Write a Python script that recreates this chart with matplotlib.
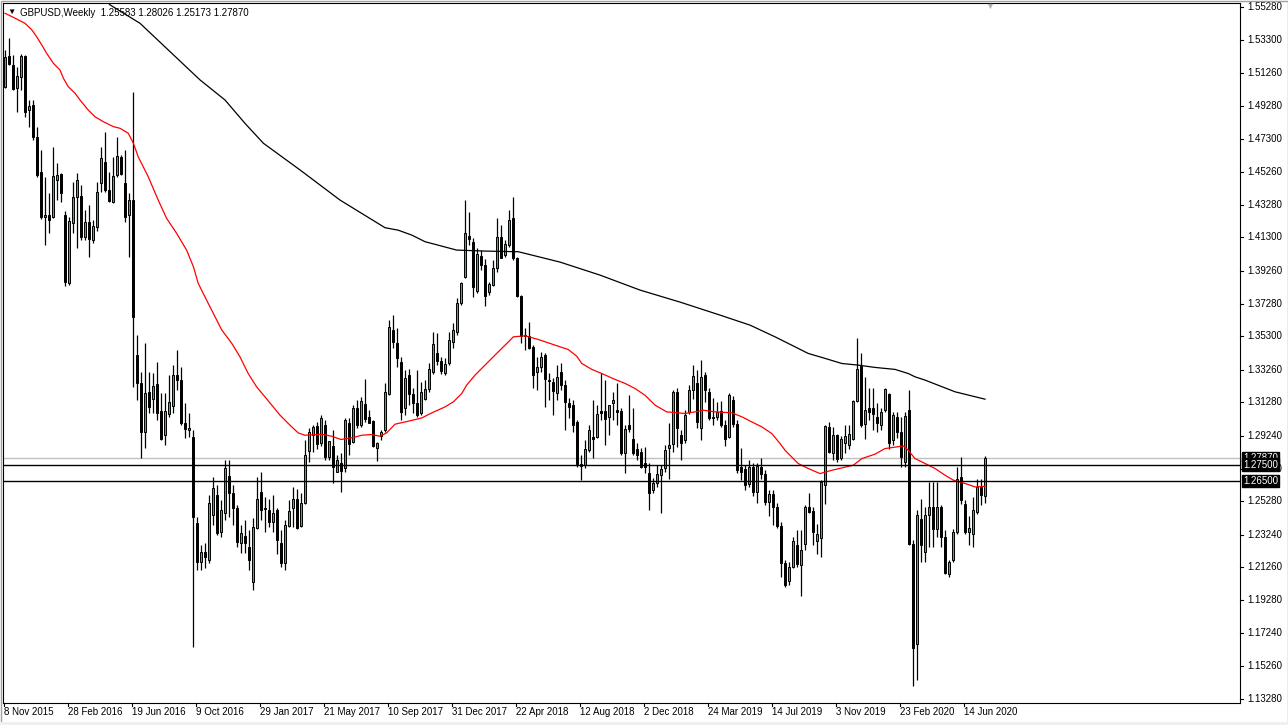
import numpy as np
import matplotlib
matplotlib.use('Agg')
import matplotlib.pyplot as plt
import matplotlib.transforms as mtransforms
from matplotlib.patches import Rectangle

plt.rcParams['font.family'] = ['Liberation Sans', 'DejaVu Sans']

# weekly GBPUSD candles, bar 0 = week of 8 Nov 2015, last bar = week of 19 Jul 2020
opens = [
    1.5046, 1.5233, 1.5178, 1.5038, 1.5105, 1.5233, 1.4904, 1.4935, 1.4740, 1.4527,
    1.4254, 1.4266, 1.4254, 1.4479, 1.4515, 1.4266, 1.3852, 1.4217, 1.4375, 1.4381,
    1.4132, 1.4223, 1.4114, 1.4193, 1.4460, 1.4588, 1.4418, 1.4345, 1.4509, 1.4618,
    1.4460, 1.4266, 1.4357, 1.3415, 1.3244, 1.2948, 1.3191, 1.3147, 1.3238, 1.3076,
    1.2928, 1.3056, 1.3106, 1.3293, 1.3263, 1.3001, 1.2959, 1.2916, 1.2393, 1.2160,
    1.2217, 1.2168, 1.2442, 1.2563, 1.2338, 1.2454, 1.2679, 1.2576, 1.2484, 1.2272,
    1.2314, 1.2249, 1.2035, 1.2365, 1.2583, 1.2486, 1.2472, 1.2401, 1.2472, 1.2276,
    1.2154, 1.2377, 1.2486, 1.2543, 1.2377, 1.2519, 1.2833, 1.2930, 1.2983, 1.2878,
    1.2993, 1.2796, 1.2863, 1.2705, 1.2760, 1.2729, 1.3005, 1.2884, 1.3091, 1.2993,
    1.3117, 1.3040, 1.3013, 1.2851, 1.2924, 1.2959, 1.3176, 1.3567, 1.3486, 1.3370,
    1.3094, 1.3297, 1.3180, 1.3121, 1.3066, 1.3151, 1.3208, 1.3313, 1.3425, 1.3378,
    1.3309, 1.3364, 1.3495, 1.3556, 1.3729, 1.3887, 1.4138, 1.4103, 1.3804, 1.4018,
    1.3962, 1.3800, 1.3840, 1.3942, 1.4134, 1.4023, 1.4083, 1.4246, 1.4006, 1.3773,
    1.3530, 1.3530, 1.3463, 1.3313, 1.3343, 1.3415, 1.3263, 1.3252, 1.3182, 1.3313,
    1.3232, 1.3125, 1.3111, 1.3009, 1.2756, 1.2746, 1.2837, 1.2918, 1.2918, 1.3076,
    1.3076, 1.3036, 1.3121, 1.3080, 1.3074, 1.2823, 1.2990, 1.2908, 1.2847, 1.2827,
    1.2760, 1.2701, 1.2598, 1.2638, 1.2689, 1.2726, 1.2851, 1.2872, 1.3188, 1.2928,
    1.2898, 1.3070, 1.3202, 1.3243, 1.2969, 1.3297, 1.3192, 1.3040, 1.3040, 1.3076,
    1.2989, 1.2918, 1.3145, 1.2999, 1.2735, 1.2720, 1.2630, 1.2735, 1.2583, 1.2732,
    1.2695, 1.2523, 1.2568, 1.2492, 1.2377, 1.2154, 1.2042, 1.2130, 1.2264, 1.2142,
    1.2266, 1.2492, 1.2466, 1.2286, 1.2306, 1.2624, 1.2979, 1.2821, 1.2928, 1.2790,
    1.2880, 1.2870, 1.2904, 1.3135, 1.3348, 1.2995, 1.3091, 1.3091, 1.3040, 1.2989,
    1.3080, 1.3178, 1.2900, 1.3040, 1.2948, 1.2766, 1.3080, 1.2270, 1.1662, 1.2422,
    1.2219, 1.2442, 1.2492, 1.2357, 1.2492, 1.2310, 1.2083, 1.2168, 1.2340, 1.2675,
    1.2513, 1.2340, 1.2330, 1.2462, 1.2614, 1.25583,
]
highs = [
    1.5269, 1.5342, 1.5239, 1.5166, 1.5245, 1.5239, 1.4965, 1.4965, 1.4801, 1.4661,
    1.4497, 1.4400, 1.4679, 1.4582, 1.4521, 1.4290, 1.4254, 1.4466, 1.4521, 1.4448,
    1.4296, 1.4327, 1.4235, 1.4466, 1.4679, 1.4770, 1.4527, 1.4618, 1.4740, 1.4631,
    1.4661, 1.4400, 1.5015, 1.3536, 1.3313, 1.3488, 1.3313, 1.3305, 1.3372, 1.3184,
    1.3184, 1.3293, 1.3354, 1.3445, 1.3342, 1.3123, 1.3062, 1.2959, 1.2430, 1.2259,
    1.2272, 1.2563, 1.2673, 1.2624, 1.2533, 1.2776, 1.2776, 1.2624, 1.2503, 1.2381,
    1.2411, 1.2351, 1.2424, 1.2675, 1.2705, 1.2553, 1.2543, 1.2563, 1.2483, 1.2351,
    1.2411, 1.2533, 1.2614, 1.2604, 1.2574, 1.2898, 1.2971, 1.2989, 1.3007, 1.3050,
    1.3019, 1.2880, 1.2959, 1.2807, 1.2819, 1.3032, 1.3032, 1.3111, 1.3141, 1.3159,
    1.3269, 1.3080, 1.3019, 1.2886, 1.2959, 1.3244, 1.3627, 1.3658, 1.3577, 1.3404,
    1.3323, 1.3330, 1.3214, 1.3323, 1.3252, 1.3263, 1.3364, 1.3556, 1.3547, 1.3404,
    1.3395, 1.3556, 1.3607, 1.3759, 1.3860, 1.4357, 1.4286, 1.4124, 1.4063, 1.4053,
    1.4000, 1.3860, 1.3992, 1.4246, 1.4205, 1.4114, 1.4296, 1.4377, 1.4012, 1.3779,
    1.3579, 1.3615, 1.3475, 1.3402, 1.3435, 1.3427, 1.3305, 1.3275, 1.3354, 1.3366,
    1.3263, 1.3153, 1.3141, 1.3019, 1.2807, 1.2898, 1.2989, 1.3141, 1.3111, 1.3305,
    1.3263, 1.3111, 1.3190, 1.3244, 1.3092, 1.2989, 1.3175, 1.3092, 1.2880, 1.2849,
    1.2855, 1.2758, 1.2667, 1.2746, 1.2746, 1.2867, 1.3000, 1.3202, 1.3212, 1.2959,
    1.3080, 1.3232, 1.3354, 1.3323, 1.3384, 1.3311, 1.3214, 1.3153, 1.3129, 1.3135,
    1.3019, 1.3184, 1.3165, 1.3019, 1.2849, 1.2746, 1.2776, 1.2758, 1.2758, 1.2788,
    1.2715, 1.2594, 1.2594, 1.2515, 1.2399, 1.2168, 1.2160, 1.2310, 1.2351, 1.2351,
    1.2503, 1.2576, 1.2492, 1.2391, 1.2655, 1.2989, 1.3009, 1.2979, 1.2938, 1.2922,
    1.2989, 1.2989, 1.3141, 1.3516, 1.3425, 1.3283, 1.3212, 1.3212, 1.3123, 1.3092,
    1.3212, 1.3182, 1.3070, 1.3070, 1.3040, 1.3070, 1.3202, 1.2290, 1.2472, 1.2543,
    1.2492, 1.2644, 1.2644, 1.2644, 1.2503, 1.2350, 1.2168, 1.2361, 1.2735, 1.2796,
    1.2533, 1.2436, 1.2553, 1.2665, 1.2665, 1.28026,
]
lows = [
    1.5036, 1.5178, 1.5026, 1.4892, 1.5026, 1.4862, 1.4801, 1.4720, 1.4495, 1.4240,
    1.4083, 1.4156, 1.4248, 1.4357, 1.4345, 1.3835, 1.3840, 1.4156, 1.4065, 1.4114,
    1.4114, 1.4010, 1.4096, 1.4170, 1.4406, 1.4406, 1.4345, 1.4339, 1.4497, 1.4509,
    1.4223, 1.4010, 1.3222, 1.3141, 1.2788, 1.2849, 1.3062, 1.3062, 1.3019, 1.2898,
    1.2867, 1.3039, 1.3062, 1.3202, 1.2989, 1.2910, 1.2916, 1.1639, 1.2107, 1.2107,
    1.2120, 1.2150, 1.2381, 1.2320, 1.2308, 1.2411, 1.2430, 1.2381, 1.2247, 1.2211,
    1.2211, 1.2107, 1.1986, 1.2361, 1.2411, 1.2340, 1.2371, 1.2340, 1.2209, 1.2127,
    1.2107, 1.2371, 1.2371, 1.2361, 1.2371, 1.2509, 1.2764, 1.2825, 1.2843, 1.2861,
    1.2776, 1.2776, 1.2635, 1.2703, 1.2583, 1.2703, 1.2807, 1.2880, 1.2971, 1.2977,
    1.3010, 1.3001, 1.2855, 1.2770, 1.2898, 1.2946, 1.3171, 1.3455, 1.3343, 1.3019,
    1.3050, 1.3111, 1.3062, 1.3040, 1.3050, 1.3141, 1.3191, 1.3303, 1.3354, 1.3303,
    1.3293, 1.3354, 1.3455, 1.3540, 1.3719, 1.3881, 1.4083, 1.3769, 1.3790, 1.3930,
    1.3712, 1.3779, 1.3836, 1.3921, 1.4003, 1.4012, 1.4073, 1.3992, 1.3769, 1.3486,
    1.3445, 1.3451, 1.3214, 1.3202, 1.3311, 1.3099, 1.3141, 1.3050, 1.3141, 1.3200,
    1.2959, 1.3032, 1.2946, 1.2735, 1.2655, 1.2728, 1.2825, 1.2788, 1.2910, 1.3019,
    1.2867, 1.2928, 1.3019, 1.2989, 1.2807, 1.2697, 1.2946, 1.2807, 1.2776, 1.2728,
    1.2697, 1.2472, 1.2576, 1.2614, 1.2454, 1.2705, 1.2665, 1.2827, 1.2857, 1.2776,
    1.2878, 1.3060, 1.3150, 1.2971, 1.2898, 1.3129, 1.3019, 1.2989, 1.3019, 1.2977,
    1.2861, 1.2910, 1.2977, 1.2697, 1.2655, 1.2594, 1.2612, 1.2557, 1.2515, 1.2661,
    1.2503, 1.2436, 1.2381, 1.2363, 1.2067, 1.2006, 1.2016, 1.2120, 1.2128, 1.1951,
    1.2229, 1.2454, 1.2259, 1.2205, 1.2188, 1.2513, 1.2817, 1.2776, 1.2766, 1.2776,
    1.2817, 1.2847, 1.2898, 1.3131, 1.2979, 1.2904, 1.3019, 1.2959, 1.2948, 1.2959,
    1.3068, 1.2847, 1.2870, 1.2910, 1.2736, 1.2736, 1.2259, 1.1402, 1.1443, 1.2158,
    1.2158, 1.2249, 1.2249, 1.2310, 1.2249, 1.2087, 1.2067, 1.2158, 1.2330, 1.2513,
    1.2330, 1.2259, 1.2249, 1.2452, 1.2503, 1.25173,
]
closes = [
    1.5228, 1.5184, 1.5032, 1.5111, 1.5233, 1.4892, 1.4929, 1.4740, 1.4509, 1.4254,
    1.4266, 1.4235, 1.4503, 1.4509, 1.4400, 1.3858, 1.4229, 1.4375, 1.4479, 1.4132,
    1.4223, 1.4120, 1.4199, 1.4406, 1.4612, 1.4418, 1.4351, 1.4503, 1.4625, 1.4515,
    1.4254, 1.4357, 1.3647, 1.3243, 1.2948, 1.3182, 1.3100, 1.3226, 1.3064, 1.2908,
    1.3074, 1.3131, 1.3293, 1.3263, 1.3001, 1.2965, 1.2971, 1.2430, 1.2160, 1.2219,
    1.2186, 1.2515, 1.2606, 1.2332, 1.2472, 1.2728, 1.2576, 1.2484, 1.2278, 1.2332,
    1.2272, 1.2168, 1.2371, 1.2543, 1.2476, 1.2478, 1.2401, 1.2458, 1.2294, 1.2154,
    1.2385, 1.2466, 1.2543, 1.2365, 1.2519, 1.2807, 1.2945, 1.2979, 1.2874, 1.3030,
    1.2796, 1.2892, 1.2735, 1.2776, 1.2711, 1.3019, 1.2874, 1.3091, 1.2989, 1.3135,
    1.3025, 1.3003, 1.2863, 1.2878, 1.2945, 1.3188, 1.3583, 1.3495, 1.3395, 1.3070,
    1.3277, 1.3180, 1.3121, 1.3050, 1.3188, 1.3208, 1.3330, 1.3480, 1.3378, 1.3317,
    1.3358, 1.3506, 1.3567, 1.3729, 1.3851, 1.4155, 1.4118, 1.3826, 1.4029, 1.3962,
    1.3775, 1.3845, 1.3942, 1.4130, 1.4006, 1.4088, 1.4235, 1.4003, 1.3773, 1.3532,
    1.3536, 1.3455, 1.3293, 1.3343, 1.3404, 1.3269, 1.3257, 1.3198, 1.3283, 1.3232,
    1.3131, 1.3100, 1.2989, 1.2756, 1.2742, 1.2847, 1.2959, 1.2904, 1.3060, 1.3064,
    1.3025, 1.3111, 1.3145, 1.3070, 1.2823, 1.2963, 1.2965, 1.2823, 1.2807, 1.2735,
    1.2735, 1.2577, 1.2635, 1.2695, 1.2720, 1.2837, 1.2867, 1.3188, 1.2969, 1.2882,
    1.3050, 1.3202, 1.3287, 1.3009, 1.3283, 1.3202, 1.3030, 1.3030, 1.3070, 1.2989,
    1.2908, 1.3171, 1.2995, 1.2716, 1.2705, 1.2624, 1.2735, 1.2583, 1.2740, 1.2691,
    1.2523, 1.2570, 1.2492, 1.2377, 1.2154, 1.2016, 1.2130, 1.2284, 1.2148, 1.2229,
    1.2492, 1.2462, 1.2337, 1.2326, 1.2644, 1.2983, 1.2827, 1.2932, 1.2786, 1.2908,
    1.2922, 1.2938, 1.3135, 1.3328, 1.2989, 1.3080, 1.3070, 1.3060, 1.3003, 1.3070,
    1.3206, 1.2878, 1.3050, 1.2948, 1.2796, 1.3044, 1.2270, 1.1637, 1.2442, 1.2259,
    1.2442, 1.2492, 1.2357, 1.2489, 1.2310, 1.2091, 1.2158, 1.2340, 1.2665, 1.2533,
    1.2340, 1.2363, 1.2472, 1.2614, 1.2564, 1.27870,
]

# moving averages (bar position, value)
ma_red_bar = [0, 2.5, 5, 6.7, 7.9, 9.2, 10.4, 12.1, 13.75, 14.6, 15.8, 17.5, 18.75, 20.8,
              22.5, 24.6, 27.1, 28.75, 30.8, 32.1, 33.3, 35.8, 38.3, 40.4, 42.9, 45.4,
              47.1, 48.3, 51.25, 54.2, 56.7, 58.75, 60.8, 62.9, 65, 68.75, 71.25, 73.3,
              75, 79.2, 81.7, 84, 87.1, 89.2, 91.7, 93.75, 95.4, 97.5, 100.8, 104.2,
              106.7, 110, 112.1, 114.2, 115.4, 117.5, 120, 122.5, 125, 127.1, 130, 133.3,
              136.7, 140.8, 142.9, 144.2, 146.7, 149.2, 152.5, 155, 157.5, 160, 162.5,
              165.4, 170, 172.5, 174.6, 177.5, 181.7, 184.2, 186.7, 189.2, 191.7, 193.75,
              195, 198.3, 200.8, 203.75, 206.7, 212.1, 214.2, 217.5, 220, 224.6, 225.8,
              227.5, 229.2, 232.5, 235, 237.1, 240, 242.5, 245]
ma_red_val = [1.5492, 1.5462, 1.5431, 1.5391, 1.5350, 1.5299, 1.5249, 1.5188, 1.5147, 1.5097,
              1.5046, 1.5006, 1.4965, 1.4904, 1.4863, 1.4833, 1.4803, 1.4793, 1.4763, 1.4702,
              1.4620, 1.4499, 1.4357, 1.4246, 1.4155, 1.4053, 1.3952, 1.3851, 1.3708, 1.3567,
              1.3486, 1.3404, 1.3303, 1.3222, 1.3161, 1.3050, 1.2989, 1.2942, 1.2928, 1.2934,
              1.2922, 1.2902, 1.2914, 1.2928, 1.2932, 1.2922, 1.2942, 1.2995, 1.3013, 1.3033,
              1.3064, 1.3100, 1.3131, 1.3182, 1.3232, 1.3293, 1.3354, 1.3415, 1.3475, 1.3526,
              1.3532, 1.3510, 1.3482, 1.3449, 1.3409, 1.3364, 1.3328, 1.3303, 1.3267, 1.3243,
              1.3212, 1.3171, 1.3111, 1.3070, 1.3060, 1.3070, 1.3080, 1.3070, 1.3064, 1.3040,
              1.3009, 1.2979, 1.2938, 1.2878, 1.2837, 1.2756, 1.2726, 1.2695, 1.2715, 1.2746,
              1.2786, 1.2813, 1.2847, 1.2863, 1.2837, 1.2786, 1.2766, 1.2726, 1.2685, 1.2655,
              1.2635, 1.2614, 1.2618]
ma_black_bar = [24, 26.25, 33.75, 48.75, 55, 60, 64.6, 73.75, 83.75, 95, 98.3, 101.7, 105,
                109.2, 112.9, 120, 128.3, 130, 138.75, 148.75, 158.75, 168.75, 178.75,
                186.25, 192.5, 196.7, 200.8, 205, 209.2, 213.3, 217.5, 222.5, 225.8, 227.5,
                230, 237.5, 245]
ma_black_val = [1.5600, 1.5543, 1.5431, 1.5087, 1.4965, 1.4823, 1.4702, 1.4540, 1.4357,
                1.4189, 1.4174, 1.4144, 1.4104, 1.4077, 1.4053, 1.4047, 1.4043, 1.4033,
                1.3980, 1.3901, 1.3810, 1.3737, 1.3658, 1.3597, 1.3526, 1.3475, 1.3425,
                1.3395, 1.3364, 1.3354, 1.3340, 1.3328, 1.3303, 1.3283, 1.3263, 1.3192,
                1.3147]

hlines_black = [1.27500, 1.26500]
bid_price = 1.27870
price_ticks = [1.55280, 1.53300, 1.51260, 1.49280, 1.47300, 1.45260, 1.43280, 1.41300,
               1.39260, 1.37280, 1.35300, 1.33260, 1.31280, 1.29240, 1.27200, 1.25280,
               1.23240, 1.21260, 1.19280, 1.17240, 1.15260, 1.13280]
date_labels = ['8 Nov 2015', '28 Feb 2016', '19 Jun 2016', '9 Oct 2016', '29 Jan 2017',
               '21 May 2017', '10 Sep 2017', '31 Dec 2017', '22 Apr 2018', '12 Aug 2018',
               '2 Dec 2018', '24 Mar 2019', '14 Jul 2019', '3 Nov 2019', '23 Feb 2020',
               '14 Jun 2020']
date_bars = [0, 16, 32, 48, 64, 80, 96, 112, 128, 144, 160, 176, 192, 208, 224, 240]
header = 'GBPUSD,Weekly  1.25583 1.28026 1.25173 1.27870'

W, H = 1288, 725
fig = plt.figure(figsize=(W / 100, H / 100), dpi=100)
fig.patch.set_facecolor('white')
ax = fig.add_axes([3 / W, (H - 703) / H, (1240 - 3) / W, (703 - 3) / H])
ax.set_xlim(-0.5, 308.75)
ax.set_ylim(1.13010, 1.55543)
ax.set_xticks([])
ax.set_yticks([])
for s in ax.spines.values():
    s.set_color('black')
    s.set_linewidth(0.8)

# candles
o = np.array(opens); c = np.array(closes)
h = np.maximum(np.array(highs), np.maximum(o, c))
l = np.minimum(np.array(lows), np.minimum(o, c))
idx = np.arange(len(c))
up = c >= o
ax.vlines(idx, l, h, color='black', lw=0.9, zorder=2)
lo = np.minimum(o, c)
hgt = np.maximum(np.abs(c - o), 0.0004)
ax.bar(idx[up], hgt[up], bottom=lo[up], width=0.6, color='#00e600', edgecolor='black',
       linewidth=0.7, zorder=3)
ax.bar(idx[~up], hgt[~up], bottom=lo[~up], width=0.6, color='black', edgecolor='black',
       linewidth=0.7, zorder=3)

# indicators and levels
ax.plot(ma_black_bar, ma_black_val, color='black', lw=0.9, zorder=4)
ax.plot(ma_red_bar, ma_red_val, color='red', lw=0.9, zorder=4)
ax.axhline(bid_price, color='#c0c0c0', lw=1, zorder=1)
for p in hlines_black:
    ax.axhline(p, color='black', lw=1, zorder=4)

# right price scale
ytr = mtransforms.blended_transform_factory(ax.transAxes, ax.transData)
px = 1.0 / 1237
for p in price_ticks:
    ax.plot([1.0, 1.0 + 3 * px], [p, p], transform=ytr, color='black', lw=0.8, clip_on=False)
    ax.text(1.0 + 7 * px, p, f'{p:.5f}', transform=ytr, fontsize=7, va='center', ha='left',
            zorder=1, clip_on=False)
for p in [bid_price] + hlines_black:
    ax.text(1.0 + 3 * px, p, f'{p:.5f}', transform=ytr, fontsize=7, va='center', ha='left',
            color='white', clip_on=False, zorder=10,
            bbox=dict(facecolor='black', edgecolor='black', pad=0.8))

# bottom date scale
xtr = mtransforms.blended_transform_factory(ax.transData, ax.transAxes)
for b, lab in zip(date_bars, date_labels):
    ax.plot([b - 0.25, b - 0.25], [0, -3 / 700], transform=xtr, color='black', lw=0.8,
            clip_on=False)
    ax.text(b - 0.25, -9 / 700, lab, transform=xtr, fontsize=7, va='center', ha='left',
            clip_on=False)

# header and chart-shift marker
fig.text(11 / W, 1 - 12.5 / H, '\u25bc', fontsize=6, va='center', ha='center')
fig.text(20 / W, 1 - 12.5 / H, header, fontsize=7, va='center', ha='left')
fig.text(990 / W, 1 - 6 / H, '\u25bc', fontsize=6.5, va='center', ha='center', color='#b0b0b0')

# window frame
fig.add_artist(Rectangle((0.5 / W, 0.5 / H), 1 - 1 / W, 1 - 1 / H, transform=fig.transFigure,
                         fill=False, edgecolor='#a0a0a0', lw=1))
fig.add_artist(Rectangle((0, 0), 1, 3 / H, transform=fig.transFigure, facecolor='#f0f0f0',
                         edgecolor='none'))

fig.savefig('out.png', dpi=100)
